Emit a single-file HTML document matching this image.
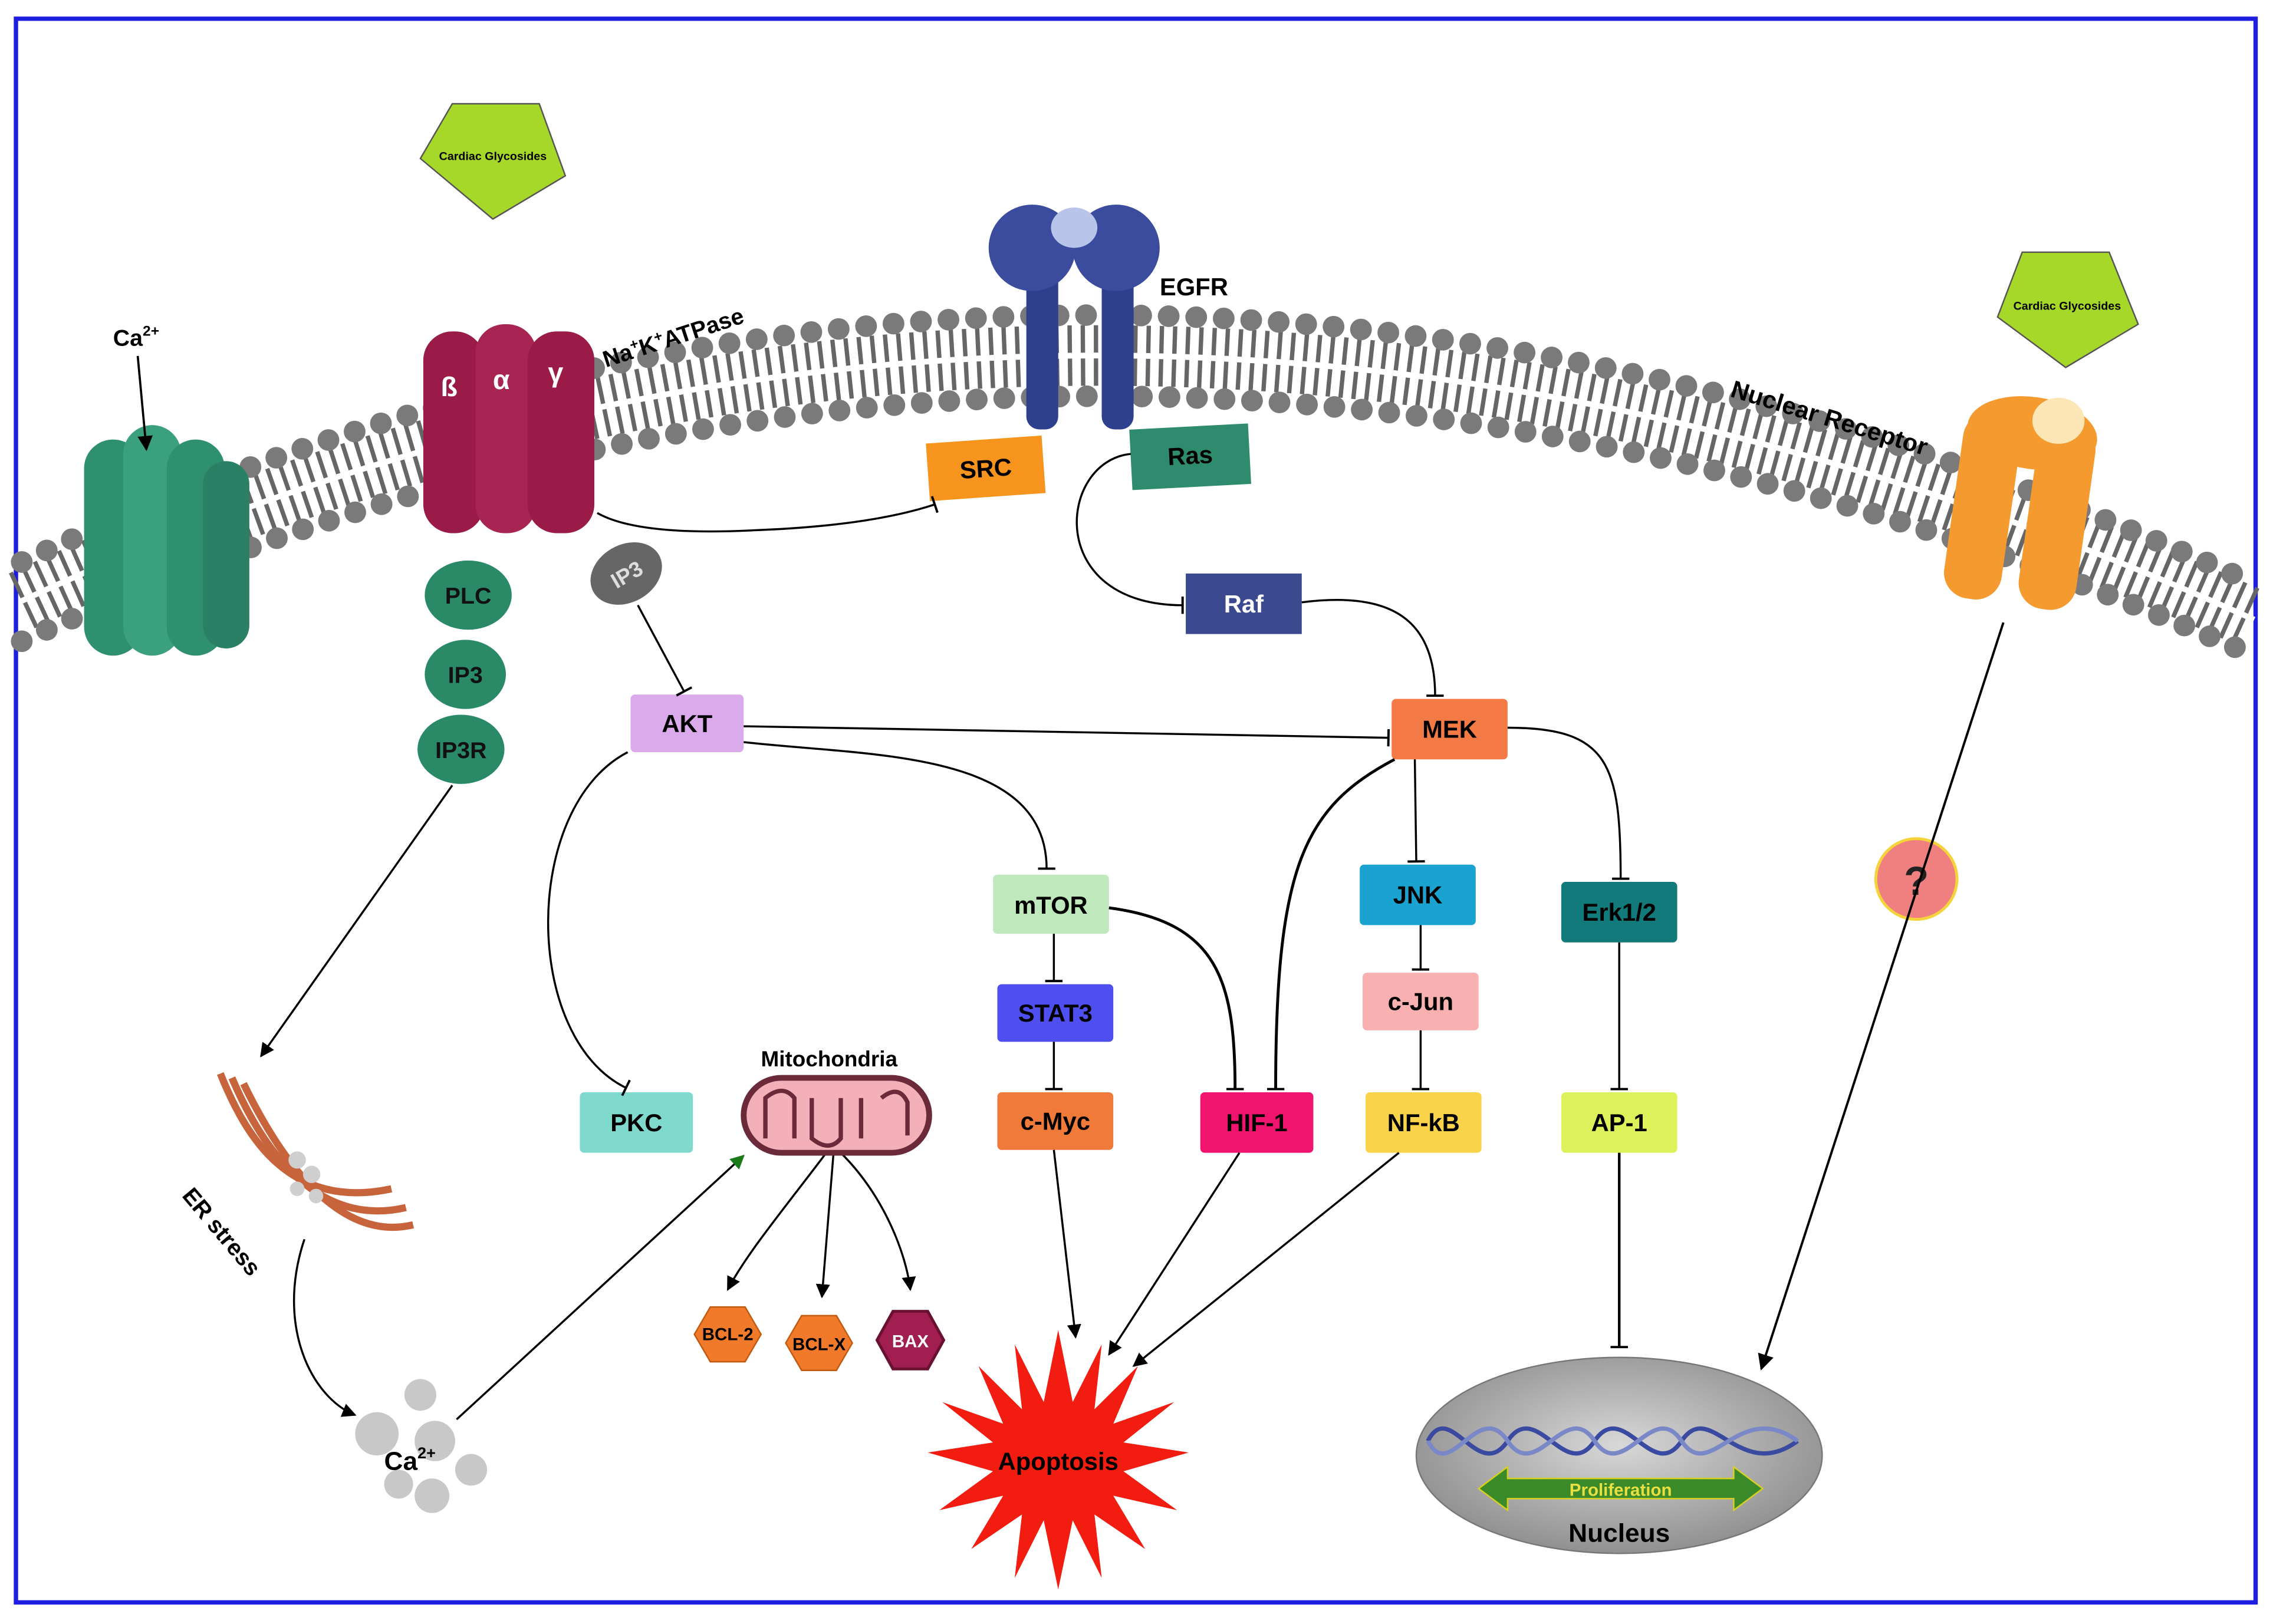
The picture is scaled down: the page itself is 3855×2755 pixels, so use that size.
<!DOCTYPE html>
<html><head><meta charset="utf-8"><style>
html,body{margin:0;padding:0;background:#fff;}
svg{display:block;}
text{font-family:"Liberation Sans",sans-serif;font-weight:bold;}
</style></head><body>
<svg width="3855" height="2755" viewBox="0 0 1568 1127" preserveAspectRatio="none" xmlns="http://www.w3.org/2000/svg">
<defs>
<marker id="ar" viewBox="0 0 10 10" refX="9" refY="5" markerWidth="7" markerHeight="7" orient="auto"><path d="M0 0L10 5L0 10z" fill="#000"/></marker>
<marker id="arg" viewBox="0 0 10 10" refX="9" refY="5" markerWidth="7" markerHeight="7" orient="auto"><path d="M0 0L10 5L0 10z" fill="#1a7a1a"/></marker>
<marker id="bar" viewBox="0 0 4 12" refX="2" refY="6" markerWidth="4" markerHeight="12" orient="auto" markerUnits="userSpaceOnUse"><rect x="1" y="0" width="1.6" height="12" fill="#000"/></marker>
<radialGradient id="nuc" cx="50%" cy="45%" r="60%"><stop offset="0" stop-color="#d8d8d8"/><stop offset="1" stop-color="#8a8a8a"/></radialGradient>
</defs>
<rect x="0" y="0" width="1568" height="1127" fill="#fff"/>
<rect x="11" y="13" width="1545" height="1099" fill="none" stroke="#1e1ee0" stroke-width="3"/>

<!-- membrane -->
<path d="M15 417 Q760 70 1555 430" fill="none" stroke="#666" stroke-width="42" stroke-dasharray="3 6"/>
<path d="M15 417 Q760 70 1555 430" fill="none" stroke="#fff" stroke-width="4"/>
<path d="M15 390 Q760 40 1555 405" fill="none" stroke="#7a7a7a" stroke-width="15" stroke-dasharray="0 19" stroke-linecap="round"/>
<path d="M15 445 Q760 100 1555 455" fill="none" stroke="#7a7a7a" stroke-width="15" stroke-dasharray="0 19" stroke-linecap="round"/>

<!-- Ca channel -->
<g fill="#2f9070">
<rect x="58" y="305" width="40" height="150" rx="20"/>
<rect x="85" y="295" width="40" height="160" rx="20" fill="#3aa07e"/>
<rect x="115" y="305" width="40" height="150" rx="20"/>
<rect x="140" y="320" width="32" height="130" rx="16" fill="#2a8064"/>
</g>
<text x="78" y="240" font-size="16">Ca<tspan font-size="10" dy="-7">2+</tspan></text>
<line x1="95" y1="247" x2="101" y2="312" stroke="#000" stroke-width="1.5" marker-end="url(#ar)"/>

<!-- Na K ATPase -->
<g fill="#9b1b48">
<rect x="292" y="230" width="42" height="140" rx="20"/>
<rect x="328" y="225" width="42" height="145" rx="20" fill="#a82553"/>
<rect x="364" y="230" width="46" height="140" rx="20"/>
</g>
<text x="304" y="275" font-size="19" fill="#fff">ß</text>
<text x="340" y="270" font-size="19" fill="#fff">α</text>
<text x="378" y="265" font-size="19" fill="#fff">γ</text>
<text x="418" y="255" font-size="16" transform="rotate(-18 418 255)">Na<tspan font-size="10" dy="-6">+</tspan><tspan dy="6">K</tspan><tspan font-size="10" dy="-6">+</tspan><tspan dy="6">ATPase</tspan></text>

<!-- PLC IP3 IP3R -->
<g fill="#2a8a68">
<ellipse cx="323" cy="413" rx="30" ry="24"/>
<ellipse cx="321" cy="468" rx="28" ry="24"/>
<ellipse cx="318" cy="520" rx="30" ry="24"/>
</g>
<text x="323" y="419" font-size="16" text-anchor="middle" fill="#111">PLC</text>
<text x="321" y="474" font-size="16" text-anchor="middle" fill="#111">IP3</text>
<text x="318" y="526" font-size="16" text-anchor="middle" fill="#111">IP3R</text>
<ellipse cx="432" cy="398" rx="26" ry="20" fill="#666" transform="rotate(-30 432 398)"/>
<text x="432" y="404" font-size="15" text-anchor="middle" fill="#ddd" transform="rotate(-30 432 398)">IP3</text>

<!-- pentagons -->
<polygon points="312,72 372,72 390,122 340,152 290,110" fill="#a6d82a" stroke="#555" stroke-width="1"/>
<text x="340" y="111" font-size="8" text-anchor="middle">Cardiac Glycosides</text>
<polygon points="1395,175 1455,175 1475,225 1425,255 1378,220" fill="#a6d82a" stroke="#555" stroke-width="1"/>
<text x="1426" y="215" font-size="8" text-anchor="middle">Cardiac Glycosides</text>

<!-- EGFR -->
<rect x="708" y="180" width="22" height="118" rx="9" fill="#2e3f8e"/>
<rect x="760" y="180" width="22" height="118" rx="9" fill="#2e3f8e"/>
<ellipse cx="712" cy="172" rx="30" ry="30" fill="#3b4c9e"/>
<ellipse cx="770" cy="172" rx="30" ry="30" fill="#3b4c9e"/>
<ellipse cx="741" cy="158" rx="16" ry="14" fill="#b8c4ea"/>
<text x="800" y="205" font-size="17">EGFR</text>

<!-- Nuclear receptor -->
<g fill="#f59a2e" transform="rotate(8 1395 350)">
<rect x="1348" y="290" width="40" height="130" rx="18"/>
<rect x="1400" y="290" width="40" height="130" rx="18"/>
<ellipse cx="1395" cy="300" rx="45" ry="25"/>
</g>
<ellipse cx="1420" cy="292" rx="18" ry="16" fill="#fce6b6"/>
<text x="1193" y="275" font-size="17" transform="rotate(17 1193 275)">Nuclear Receptor</text>

<!-- boxes -->
<g font-size="17" text-anchor="middle">
<g transform="rotate(-4 680 325)"><rect x="640" y="305" width="80" height="40" fill="#f7941d"/><text x="680" y="331">SRC</text></g>
<g transform="rotate(-3 821 316)"><rect x="780" y="296" width="82" height="42" fill="#2e8b6e"/><text x="821" y="322">Ras</text></g>
<rect x="818" y="398" width="80" height="42" fill="#3b4a8f"/><text x="858" y="425" fill="#fff">Raf</text>
<rect x="435" y="482" width="78" height="40" rx="3" fill="#dbaaea"/><text x="474" y="508">AKT</text>
<rect x="960" y="485" width="80" height="42" rx="3" fill="#f47a45"/><text x="1000" y="512">MEK</text>
<rect x="685" y="607" width="80" height="41" rx="3" fill="#bfe8bd"/><text x="725" y="634">mTOR</text>
<rect x="688" y="683" width="80" height="40" rx="3" fill="#4f4ff0"/><text x="728" y="709">STAT3</text>
<rect x="688" y="758" width="80" height="40" rx="3" fill="#f07a3a"/><text x="728" y="784">c-Myc</text>
<rect x="828" y="758" width="78" height="42" rx="3" fill="#f0146e"/><text x="867" y="785">HIF-1</text>
<rect x="938" y="600" width="80" height="42" rx="3" fill="#1aa3d0"/><text x="978" y="627">JNK</text>
<rect x="940" y="675" width="80" height="40" rx="3" fill="#f8b0b0"/><text x="980" y="701">c-Jun</text>
<rect x="942" y="758" width="80" height="42" rx="3" fill="#f9d34a"/><text x="982" y="785">NF-kB</text>
<rect x="1077" y="612" width="80" height="42" rx="3" fill="#127a7a"/><text x="1117" y="639">Erk1/2</text>
<rect x="1077" y="758" width="80" height="42" rx="3" fill="#ddf25a"/><text x="1117" y="785">AP-1</text>
<rect x="400" y="758" width="78" height="42" rx="3" fill="#7fd9cc"/><text x="439" y="785">PKC</text>
</g>
<circle cx="1322" cy="610" r="28" fill="#f08080" stroke="#f5d33a" stroke-width="2"/>
<text x="1322" y="621" font-size="28" text-anchor="middle" fill="#222">?</text>

<!-- connectors -->
<g fill="none" stroke="#000" stroke-width="1.4">
<path d="M412 356 Q440 372 520 368 Q600 365 645 350" marker-end="url(#bar)"/>
<path d="M440 420 L472 480" marker-end="url(#bar)"/>
<path d="M780 315 C730 320 720 420 816 420" marker-end="url(#bar)"/>
<path d="M898 418 C960 410 990 430 990 483" marker-end="url(#bar)"/>
<path d="M513 504 L958 512" marker-end="url(#bar)"/>
<path d="M513 515 C600 525 722 520 722 603" marker-end="url(#bar)"/>
<path d="M433 522 C360 560 360 720 432 755" marker-end="url(#bar)"/>
<path d="M976 527 L977 598" marker-end="url(#bar)"/>
<path d="M1040 505 C1110 505 1118 530 1118 610" marker-end="url(#bar)"/>
<path d="M962 527 C900 560 880 600 880 756" marker-end="url(#bar)" stroke-width="2"/>
<path d="M765 630 C840 640 852 680 852 756" marker-end="url(#bar)" stroke-width="2"/>
<path d="M727 648 L727 681" marker-end="url(#bar)"/>
<path d="M727 723 L727 756" marker-end="url(#bar)"/>
<path d="M980 642 L980 673" marker-end="url(#bar)"/>
<path d="M980 715 L980 756" marker-end="url(#bar)"/>
<path d="M1117 654 L1117 756" marker-end="url(#bar)"/>
<path d="M1117 800 L1117 935" marker-end="url(#bar)" stroke-width="1.8"/>
<path d="M727 798 L742 928" marker-end="url(#ar)"/>
<path d="M855 800 L765 940" marker-end="url(#ar)"/>
<path d="M965 800 L782 948" marker-end="url(#ar)"/>
<path d="M1382 432 L1215 950" marker-end="url(#ar)" stroke-width="1.6"/>
<path d="M312 545 L180 733" marker-end="url(#ar)"/>
<path d="M210 860 C190 920 215 970 245 982" marker-end="url(#ar)"/>
<path d="M315 985 L513 802" marker-end="url(#arg)"/>
<path d="M570 800 C540 840 515 870 502 895" marker-end="url(#ar)"/>
<path d="M575 800 L567 900" marker-end="url(#ar)"/>
<path d="M580 800 C610 830 625 870 628 895" marker-end="url(#ar)"/>
</g>

<!-- Mitochondria -->
<rect x="513" y="748" width="128" height="52" rx="26" fill="#f4b0b8" stroke="#6a2a3a" stroke-width="4"/>
<path d="M528 790 L528 762 Q540 752 548 762 L548 790 M560 762 L560 790 Q572 800 580 790 L580 762 M594 762 L594 790 M608 762 Q620 752 626 765 L626 788" fill="none" stroke="#6a2a3a" stroke-width="3"/>
<text x="572" y="740" font-size="15" text-anchor="middle">Mitochondria</text>

<!-- hexagons -->
<polygon points="490,907 514,907 525,926 514,945 490,945 479,926" fill="#f07a2a" stroke="#c05a10"/>
<text x="502" y="930" font-size="12" text-anchor="middle">BCL-2</text>
<polygon points="553,913 577,913 588,932 577,951 553,951 542,932" fill="#f07a2a" stroke="#c05a10"/>
<text x="565" y="937" font-size="12" text-anchor="middle">BCL-X</text>
<polygon points="616,910 640,910 651,930 640,950 616,950 605,930" fill="#a01e50" stroke="#6a1030" stroke-width="2"/>
<text x="628" y="935" font-size="12" text-anchor="middle" fill="#fff">BAX</text>

<!-- ER -->
<g fill="none" stroke="#c8643c" stroke-width="5">
<path d="M152 745 C170 790 200 840 270 825"/>
<path d="M160 748 C182 800 220 852 280 838"/>
<path d="M168 752 C195 808 235 862 285 850"/>
</g>
<g fill="#cfcfcf"><circle cx="205" cy="805" r="6"/><circle cx="215" cy="815" r="6"/><circle cx="205" cy="825" r="5"/><circle cx="218" cy="830" r="5"/></g>
<text x="125" y="830" font-size="16" transform="rotate(50 125 830)">ER stress</text>

<!-- Ca cluster -->
<g fill="#c8c8c8"><circle cx="260" cy="995" r="15"/><circle cx="290" cy="968" r="11"/><circle cx="300" cy="1000" r="14"/><circle cx="325" cy="1020" r="11"/><circle cx="275" cy="1030" r="10"/><circle cx="298" cy="1038" r="12"/></g>
<text x="265" y="1020" font-size="18">Ca<tspan font-size="11" dy="-8">2+</tspan></text>

<!-- Apoptosis -->
<g transform="translate(730 1013)">
<polygon fill="#f21c10" points="0,-90 10,-40 30,-80 25,-35 55,-65 38,-25 80,-40 45,-12 90,-5 45,8 82,35 38,25 60,62 25,38 30,82 10,42 0,90 -10,42 -30,82 -25,38 -60,62 -38,25 -82,35 -45,8 -90,-5 -45,-12 -80,-40 -38,-25 -55,-65 -25,-35 -30,-80 -10,-40"/>
</g>
<text x="730" y="1020" font-size="17" text-anchor="middle">Apoptosis</text>

<!-- Nucleus -->
<ellipse cx="1117" cy="1010" rx="140" ry="68" fill="url(#nuc)" stroke="#777"/>
<path d="M985 1000 C1000 970 1020 1030 1040 1000 C1060 970 1080 1030 1100 1000 C1120 970 1140 1030 1160 1000 C1180 970 1200 1030 1240 1000" fill="none" stroke="#3a4aa0" stroke-width="3"/>
<path d="M985 1000 C1000 1030 1020 970 1040 1000 C1060 1030 1080 970 1100 1000 C1120 1030 1140 970 1160 1000 C1180 1030 1200 970 1240 1000" fill="none" stroke="#7a88c8" stroke-width="3"/>
<polygon points="1020,1033 1040,1018 1040,1026 1196,1026 1196,1018 1216,1033 1196,1048 1196,1040 1040,1040 1040,1048" fill="#3a8a2a" stroke="#d8d020" stroke-width="1"/>
<text x="1118" y="1038" font-size="12" text-anchor="middle" fill="#e8e040">Proliferation</text>
<text x="1117" y="1070" font-size="18" text-anchor="middle">Nucleus</text>
</svg>
</body></html>
